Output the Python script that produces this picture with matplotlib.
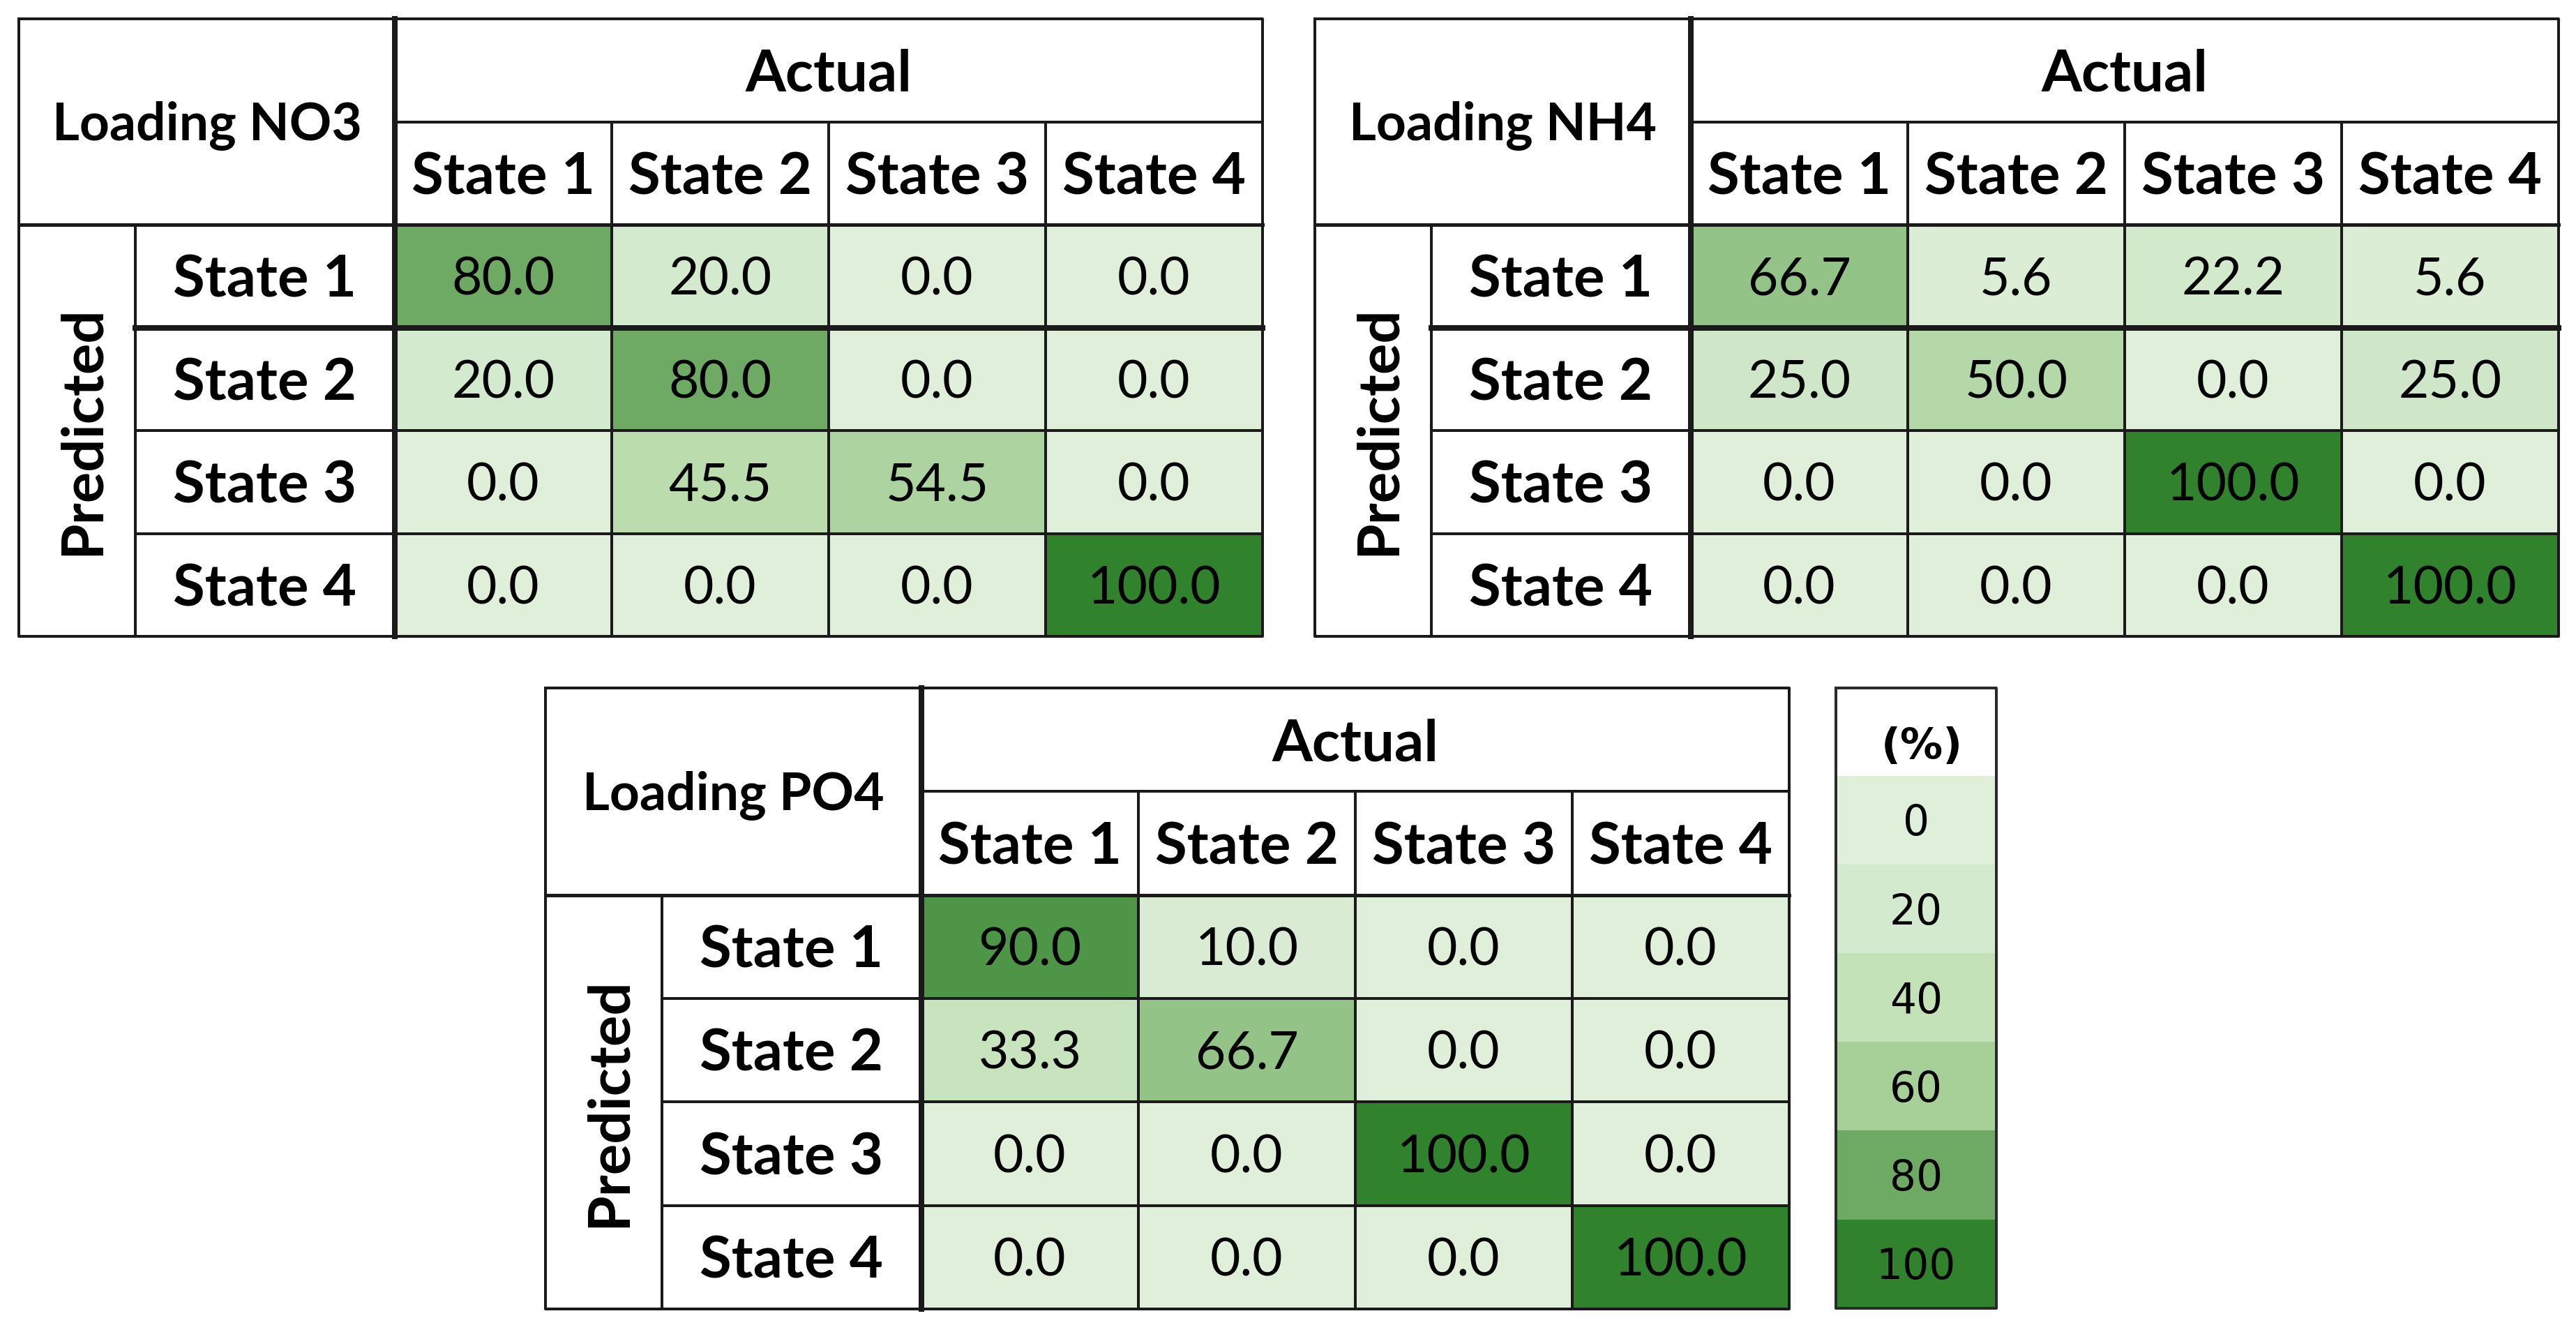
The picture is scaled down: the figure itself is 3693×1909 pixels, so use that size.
import numpy as np
import matplotlib.pyplot as plt
from matplotlib.colors import LinearSegmentedColormap, Normalize

# confusion matrices (%), rows = predicted, cols = actual
states = ["State 1", "State 2", "State 3", "State 4"]
names = ["Loading NO3", "Loading NH4", "Loading PO4"]

no3 = [[80.0, 20.0, 0.0, 0.0],
       [20.0, 80.0, 0.0, 0.0],
       [0.0, 45.5, 54.5, 0.0],
       [0.0, 0.0, 0.0, 100.0]]
nh4 = [[66.7, 5.6, 22.2, 5.6],
       [25.0, 50.0, 0.0, 25.0],
       [0.0, 0.0, 100.0, 0.0],
       [0.0, 0.0, 0.0, 100.0]]
po4 = [[90.0, 10.0, 0.0, 0.0],
       [33.3, 66.7, 0.0, 0.0],
       [0.0, 0.0, 100.0, 0.0],
       [0.0, 0.0, 0.0, 100.0]]

scale_levels = [0, 20, 40, 60, 80, 100]
scale_colors = ["#dfefd9", "#d4eace", "#c3e2b8", "#a6d097", "#6faa64", "#31822d"]

W, H = 3693, 1909
PX = 100 / 72.0  # px per point at dpi 100

cmap = LinearSegmentedColormap.from_list(
    "xl_green", [(l / 100.0, c) for l, c in zip(scale_levels, scale_colors)])
norm = Normalize(0, 100)

LINE = "#1a1a1a"
LW = 4 / PX
LW_THICK = 8 / PX

FONT = ["Lato", "DejaVu Sans"]


def put_text(ax, cx, cy, s, size, weight="normal", family=FONT, cap=0.7165, **kw):
    # place so that the cap height is centred on cy
    ax.text(cx, cy + cap * size * PX / 2, s, ha="center", va="baseline",
            fontsize=size, fontweight=weight, family=family, zorder=5, **kw)


def draw_table(ax, x0, y0, name, vals, row_h=147.5, thick_row=True):
    pred_w, lab_w, col_w = 167, 372, 311
    xl = x0 + pred_w
    xd = xl + lab_w
    xr = xd + 4 * col_w
    yh = y0 + row_h
    yd = y0 + 2 * row_h
    yb = yd + 4 * row_h

    ax.imshow(np.array(vals), cmap=cmap, norm=norm, extent=(xd, xr, yb, yd),
              interpolation="nearest", aspect="auto", zorder=1)

    kw = dict(color=LINE, solid_capstyle="projecting", zorder=3)
    # outer frame
    ax.plot([x0, xr, xr, x0, x0], [y0, y0, yb, yb, y0], lw=LW, **kw)
    ax.plot([xd, xd], [y0, yb], lw=LW_THICK, **kw)
    ax.plot([xl, xl], [yd, yb], lw=LW, **kw)
    ax.plot([xd, xr], [yh, yh], lw=LW, **kw)
    ax.plot([x0, xr], [yd, yd], lw=5 / PX, **kw)
    for i in range(1, 4):
        xc = xd + i * col_w
        ax.plot([xc, xc], [yh, yb], lw=LW, **kw)
        yc = yd + i * row_h
        lw = LW_THICK if (i == 1 and thick_row) else LW
        ax.plot([xl, xr], [yc, yc], lw=lw, **kw)

    put_text(ax, (x0 + xd) / 2, (y0 + yd) / 2, name, 54, "bold")
    put_text(ax, (xd + xr) / 2, (y0 + yh) / 2, "Actual", 60, "bold")
    for i, s in enumerate(states):
        put_text(ax, xd + (i + 0.5) * col_w, (yh + yd) / 2, s, 60, "bold")
        put_text(ax, (xl + xd) / 2, yd + (i + 0.5) * row_h, s, 60, "bold")
        for j, v in enumerate(vals[i]):
            put_text(ax, xd + (j + 0.5) * col_w, yd + (i + 0.5) * row_h,
                     f"{v:.1f}", 54)

    size = 60
    ax.text((x0 + xl) / 2 + 0.37 * size * PX, (yd + yb) / 2, "Predicted",
            rotation=90, rotation_mode="anchor", ha="center", va="baseline",
            fontsize=size, fontweight="bold", family=FONT, zorder=5)


def draw_scale(ax, x0, x1, y0, yh, y1):
    ax.imshow(np.array(scale_levels, dtype=float)[:, None], cmap=cmap, norm=norm,
              extent=(x0, x1, y1, yh), interpolation="nearest", aspect="auto",
              zorder=1)
    ax.plot([x0, x1, x1, x0, x0], [y0, y0, y1, y1, y0], color="#2a2a2a",
            lw=LW, solid_capstyle="projecting", zorder=3)
    cx = (x0 + x1) / 2
    put_text(ax, cx + 8, (y0 + yh) / 2 + 16, "(%)", 44, weight="bold",
             family=["DejaVu Sans"], cap=0.729)
    step = (y1 - yh) / len(scale_levels)
    for k, lv in enumerate(scale_levels):
        put_text(ax, cx, yh + (k + 0.5) * step, str(lv), 43,
                 family=["DejaVu Sans"], cap=0.729)


fig = plt.figure(figsize=(W / 100, H / 100), dpi=100)
ax = fig.add_axes([0, 0, 1, 1])
ax.set_xlim(0, W)
ax.set_ylim(H, 0)
ax.axis("off")

draw_table(ax, 27, 27, names[0], no3)
draw_table(ax, 1885, 27, names[1], nh4)
draw_table(ax, 782, 986, names[2], po4, row_h=148.3, thick_row=False)
draw_scale(ax, 2632, 2862, 986, 1112, 1875)

fig.savefig("out.png", dpi=100, facecolor="white")
